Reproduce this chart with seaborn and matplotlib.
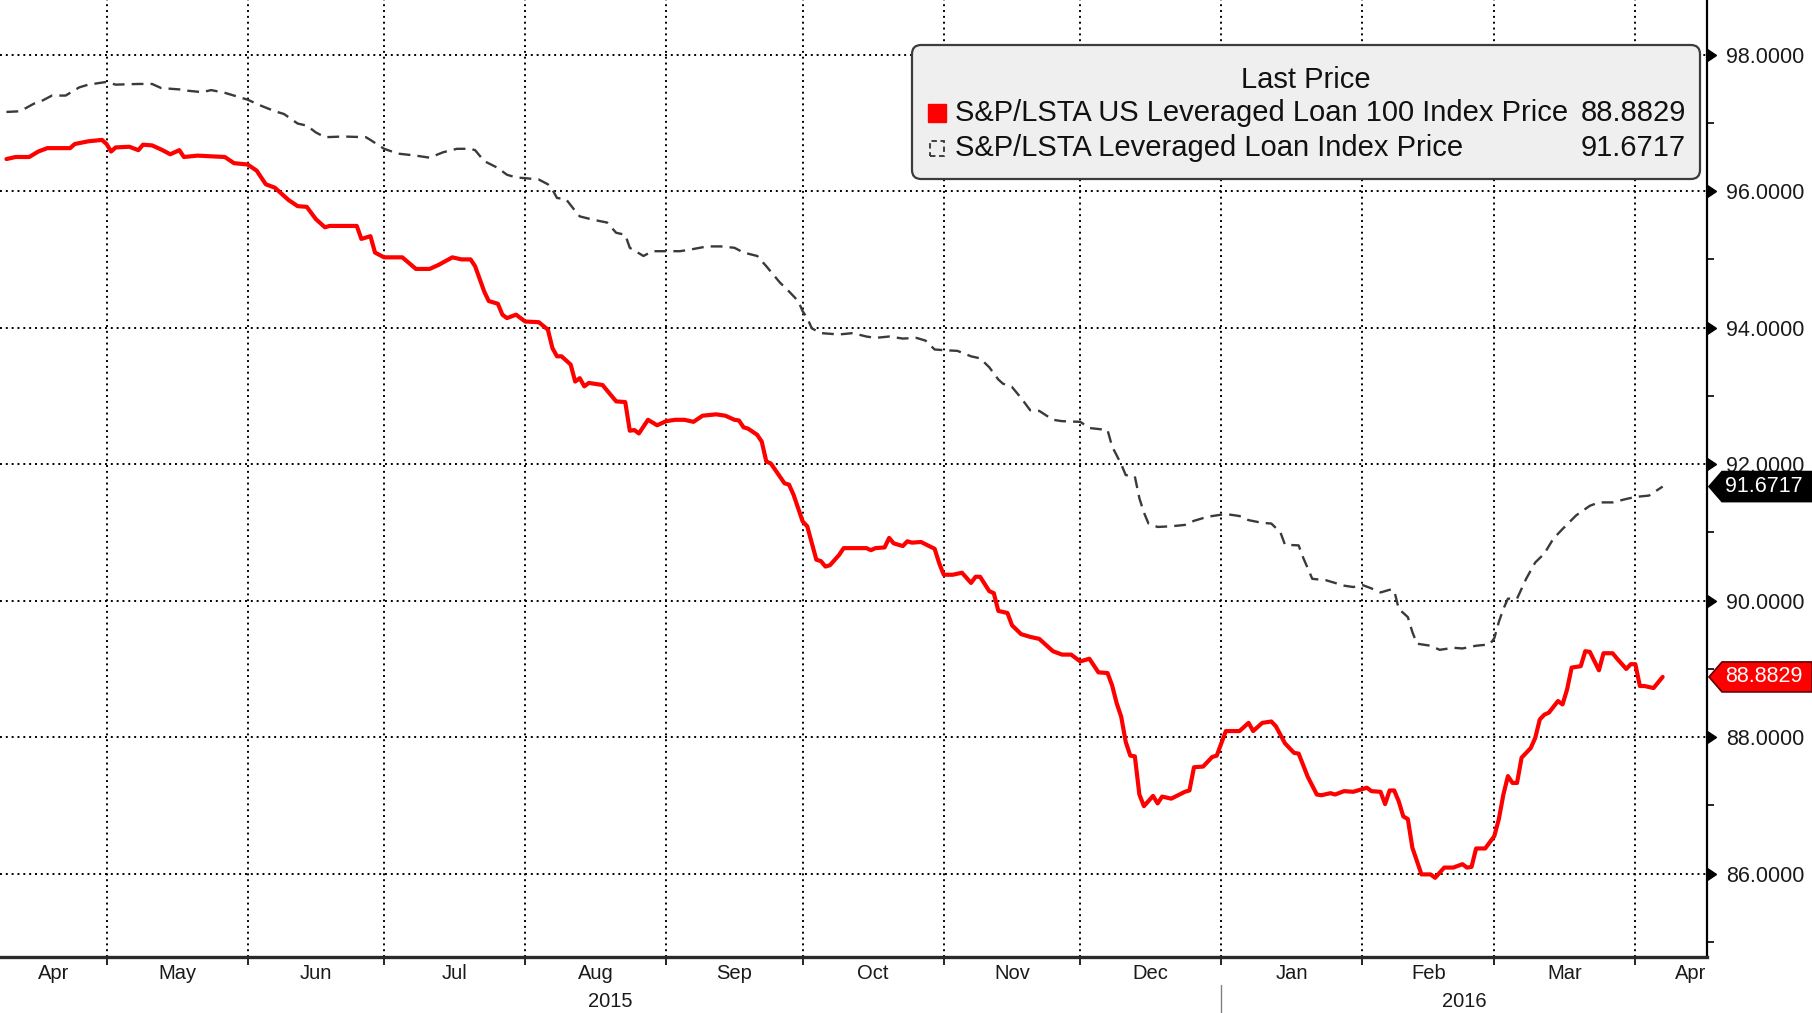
import numpy as np
import pandas as pd
import matplotlib
matplotlib.use("Agg")
import matplotlib.pyplot as plt
import matplotlib.dates as mdates
import seaborn as sns
from matplotlib import font_manager, transforms
from matplotlib.patches import Polygon, FancyBboxPatch, Rectangle
from matplotlib.markers import CARETRIGHTBASE

# ---------------- data ----------------
loan100_dates = [
    "2015-04-09", "2015-04-11", "2015-04-14", "2015-04-16", "2015-04-18", "2015-04-23", "2015-04-24",
    "2015-04-27", "2015-04-30", "2015-05-01", "2015-05-02", "2015-05-03", "2015-05-06", "2015-05-08",
    "2015-05-09", "2015-05-11", "2015-05-13", "2015-05-15", "2015-05-17", "2015-05-18", "2015-05-21",
    "2015-05-27", "2015-05-29", "2015-06-01", "2015-06-03", "2015-06-05", "2015-06-07", "2015-06-10",
    "2015-06-12", "2015-06-14", "2015-06-16", "2015-06-18", "2015-06-19", "2015-06-25", "2015-06-26",
    "2015-06-28", "2015-06-29", "2015-07-01", "2015-07-05", "2015-07-08", "2015-07-11", "2015-07-13",
    "2015-07-16", "2015-07-18", "2015-07-20", "2015-07-21", "2015-07-23", "2015-07-24", "2015-07-26",
    "2015-07-27", "2015-07-28", "2015-07-30", "2015-08-01", "2015-08-04", "2015-08-06", "2015-08-07",
    "2015-08-08", "2015-08-09", "2015-08-11", "2015-08-12", "2015-08-13", "2015-08-14", "2015-08-15",
    "2015-08-18", "2015-08-21", "2015-08-23", "2015-08-24", "2015-08-25", "2015-08-26", "2015-08-28",
    "2015-08-30", "2015-09-01", "2015-09-03", "2015-09-05", "2015-09-07", "2015-09-09", "2015-09-12",
    "2015-09-14", "2015-09-16", "2015-09-17", "2015-09-18", "2015-09-19", "2015-09-21", "2015-09-22",
    "2015-09-23", "2015-09-24", "2015-09-27", "2015-09-28", "2015-09-29", "2015-10-01", "2015-10-02",
    "2015-10-04", "2015-10-05", "2015-10-06", "2015-10-07", "2015-10-09", "2015-10-10", "2015-10-15",
    "2015-10-16", "2015-10-17", "2015-10-19", "2015-10-20", "2015-10-21", "2015-10-23", "2015-10-24",
    "2015-10-25", "2015-10-27", "2015-10-30", "2015-10-31", "2015-11-01", "2015-11-03", "2015-11-05",
    "2015-11-07", "2015-11-08", "2015-11-09", "2015-11-11", "2015-11-12", "2015-11-13", "2015-11-15",
    "2015-11-16", "2015-11-18", "2015-11-20", "2015-11-22", "2015-11-25", "2015-11-27", "2015-11-29",
    "2015-12-01", "2015-12-03", "2015-12-05", "2015-12-07", "2015-12-08", "2015-12-09", "2015-12-10",
    "2015-12-11", "2015-12-12", "2015-12-13", "2015-12-14", "2015-12-15", "2015-12-17", "2015-12-18",
    "2015-12-19", "2015-12-21", "2015-12-24", "2015-12-25", "2015-12-26", "2015-12-28", "2015-12-30",
    "2015-12-31", "2016-01-02", "2016-01-05", "2016-01-07", "2016-01-08", "2016-01-10", "2016-01-12",
    "2016-01-13", "2016-01-15", "2016-01-17", "2016-01-18", "2016-01-20", "2016-01-22", "2016-01-23",
    "2016-01-25", "2016-01-26", "2016-01-28", "2016-01-30", "2016-02-02", "2016-02-03", "2016-02-05",
    "2016-02-06", "2016-02-07", "2016-02-08", "2016-02-09", "2016-02-10", "2016-02-11", "2016-02-12",
    "2016-02-14", "2016-02-16", "2016-02-17", "2016-02-19", "2016-02-21", "2016-02-23", "2016-02-24",
    "2016-02-25", "2016-02-26", "2016-02-28", "2016-03-01", "2016-03-02", "2016-03-03", "2016-03-04",
    "2016-03-05", "2016-03-06", "2016-03-07", "2016-03-09", "2016-03-10", "2016-03-11", "2016-03-12",
    "2016-03-13", "2016-03-15", "2016-03-16", "2016-03-17", "2016-03-18", "2016-03-20", "2016-03-21",
    "2016-03-22", "2016-03-24", "2016-03-25", "2016-03-27", "2016-03-28", "2016-03-30", "2016-03-31",
    "2016-04-01", "2016-04-02", "2016-04-03", "2016-04-05", "2016-04-07",
]
loan100_values = [
    96.47, 96.50, 96.50, 96.58, 96.63, 96.63, 96.69,
    96.73, 96.75, 96.69, 96.58, 96.64, 96.65, 96.60,
    96.68, 96.67, 96.61, 96.54, 96.60, 96.50, 96.52,
    96.50, 96.41, 96.39, 96.30, 96.10, 96.05, 95.87,
    95.78, 95.77, 95.59, 95.47, 95.49, 95.49, 95.30,
    95.34, 95.10, 95.03, 95.03, 94.86, 94.86, 94.92,
    95.03, 95.00, 95.00, 94.90, 94.53, 94.39, 94.35,
    94.19, 94.14, 94.19, 94.09, 94.08, 93.97, 93.70,
    93.58, 93.58, 93.46, 93.21, 93.26, 93.14, 93.19,
    93.16, 92.92, 92.91, 92.49, 92.50, 92.45, 92.65,
    92.57, 92.63, 92.65, 92.65, 92.62, 92.71, 92.73,
    92.71, 92.65, 92.64, 92.54, 92.52, 92.43, 92.33,
    92.04, 92.01, 91.72, 91.70, 91.55, 91.16, 91.09,
    90.60, 90.58, 90.50, 90.52, 90.67, 90.77, 90.77,
    90.74, 90.77, 90.78, 90.92, 90.84, 90.80, 90.87,
    90.85, 90.86, 90.76, 90.55, 90.38, 90.38, 90.41,
    90.26, 90.35, 90.35, 90.14, 90.11, 89.85, 89.82,
    89.64, 89.51, 89.47, 89.44, 89.26, 89.21, 89.21,
    89.11, 89.15, 88.95, 88.94, 88.76, 88.50, 88.30,
    87.93, 87.73, 87.72, 87.16, 86.99, 87.14, 87.03,
    87.13, 87.10, 87.20, 87.22, 87.56, 87.57, 87.71,
    87.73, 88.09, 88.09, 88.21, 88.09, 88.21, 88.23,
    88.16, 87.91, 87.77, 87.76, 87.42, 87.16, 87.15,
    87.18, 87.16, 87.21, 87.20, 87.26, 87.21, 87.20,
    87.02, 87.22, 87.22, 87.06, 86.84, 86.80, 86.38,
    85.99, 85.99, 85.94, 86.09, 86.09, 86.14, 86.09,
    86.10, 86.37, 86.37, 86.55, 86.80, 87.16, 87.43,
    87.33, 87.33, 87.70, 87.84, 87.99, 88.26, 88.33,
    88.36, 88.53, 88.48, 88.70, 89.02, 89.04, 89.26,
    89.25, 88.98, 89.23, 89.23, 89.15, 89.00, 89.07,
    89.07, 88.75, 88.75, 88.72, 88.8829,
]

lli_dates = [
    "2015-04-09", "2015-04-12", "2015-04-15", "2015-04-17", "2015-04-19", "2015-04-22", "2015-04-25",
    "2015-04-27", "2015-05-01", "2015-05-03", "2015-05-08", "2015-05-11", "2015-05-13", "2015-05-17",
    "2015-05-19", "2015-05-22", "2015-05-24", "2015-05-27", "2015-05-30", "2015-06-01", "2015-06-04",
    "2015-06-07", "2015-06-09", "2015-06-12", "2015-06-14", "2015-06-16", "2015-06-18", "2015-06-22",
    "2015-06-27", "2015-06-28", "2015-07-01", "2015-07-04", "2015-07-08", "2015-07-11", "2015-07-14",
    "2015-07-17", "2015-07-20", "2015-07-21", "2015-07-23", "2015-07-26", "2015-07-28", "2015-07-30",
    "2015-08-01", "2015-08-04", "2015-08-06", "2015-08-07", "2015-08-08", "2015-08-10", "2015-08-12",
    "2015-08-13", "2015-08-16", "2015-08-19", "2015-08-21", "2015-08-23", "2015-08-24", "2015-08-27",
    "2015-08-29", "2015-09-01", "2015-09-04", "2015-09-06", "2015-09-10", "2015-09-13", "2015-09-16",
    "2015-09-18", "2015-09-21", "2015-09-23", "2015-09-26", "2015-09-28", "2015-09-30", "2015-10-01",
    "2015-10-02", "2015-10-03", "2015-10-05", "2015-10-09", "2015-10-12", "2015-10-15", "2015-10-17",
    "2015-10-20", "2015-10-23", "2015-10-26", "2015-10-28", "2015-10-30", "2015-11-01", "2015-11-04",
    "2015-11-07", "2015-11-09", "2015-11-11", "2015-11-13", "2015-11-14", "2015-11-16", "2015-11-18",
    "2015-11-20", "2015-11-22", "2015-11-25", "2015-11-27", "2015-12-01", "2015-12-03", "2015-12-07",
    "2015-12-08", "2015-12-10", "2015-12-11", "2015-12-13", "2015-12-14", "2015-12-15", "2015-12-16",
    "2015-12-18", "2015-12-21", "2015-12-24", "2015-12-26", "2015-12-29", "2016-01-01", "2016-01-03",
    "2016-01-05", "2016-01-07", "2016-01-10", "2016-01-12", "2016-01-14", "2016-01-15", "2016-01-18",
    "2016-01-19", "2016-01-21", "2016-01-24", "2016-01-28", "2016-01-30", "2016-02-01", "2016-02-03",
    "2016-02-05", "2016-02-07", "2016-02-08", "2016-02-09", "2016-02-11", "2016-02-12", "2016-02-13",
    "2016-02-16", "2016-02-18", "2016-02-21", "2016-02-23", "2016-02-26", "2016-02-29", "2016-03-01",
    "2016-03-02", "2016-03-03", "2016-03-04", "2016-03-06", "2016-03-08", "2016-03-10", "2016-03-12",
    "2016-03-14", "2016-03-16", "2016-03-19", "2016-03-22", "2016-03-24", "2016-03-27", "2016-03-30",
    "2016-04-01", "2016-04-04", "2016-04-07",
]
lli_values = [
    97.16, 97.17, 97.28, 97.33, 97.40, 97.40, 97.52,
    97.56, 97.60, 97.56, 97.57, 97.57, 97.51, 97.49,
    97.47, 97.45, 97.48, 97.44, 97.38, 97.34, 97.25,
    97.17, 97.13, 96.99, 96.96, 96.86, 96.79, 96.80,
    96.79, 96.75, 96.62, 96.55, 96.52, 96.49, 96.57,
    96.62, 96.62, 96.60, 96.44, 96.34, 96.24, 96.20,
    96.19, 96.17, 96.10, 96.02, 95.90, 95.88, 95.71,
    95.63, 95.58, 95.54, 95.39, 95.36, 95.17, 95.05,
    95.12, 95.12, 95.12, 95.14, 95.19, 95.19, 95.17,
    95.10, 95.05, 94.90, 94.66, 94.53, 94.39, 94.24,
    94.14, 93.99, 93.92, 93.90, 93.92, 93.87, 93.85,
    93.87, 93.84, 93.85, 93.81, 93.68, 93.67, 93.66,
    93.58, 93.55, 93.42, 93.24, 93.18, 93.13, 92.97,
    92.79, 92.78, 92.65, 92.63, 92.62, 92.53, 92.50,
    92.26, 92.00, 91.84, 91.82, 91.50, 91.29, 91.13,
    91.08, 91.09, 91.11, 91.17, 91.23, 91.26, 91.26,
    91.24, 91.18, 91.14, 91.13, 91.00, 90.82, 90.81,
    90.63, 90.32, 90.30, 90.22, 90.20, 90.23, 90.18,
    90.12, 90.16, 90.15, 89.88, 89.76, 89.54, 89.37,
    89.34, 89.28, 89.31, 89.30, 89.34, 89.36, 89.45,
    89.69, 89.88, 90.03, 90.03, 90.32, 90.56, 90.69,
    90.91, 91.05, 91.25, 91.39, 91.44, 91.44, 91.49,
    91.52, 91.54, 91.6717,
]

series_names = ["S&P/LSTA US Leveraged Loan 100 Index Price",
                "S&P/LSTA Leveraged Loan Index Price"]
series_colors = ["#ff0000", "#3a3a3a"]
legend_title = "Last Price"
y_major_ticks = [86, 88, 90, 92, 94, 96, 98]
y_minor_ticks = [85, 87, 89, 91, 93, 95, 97]
month_labels = ["Apr", "May", "Jun", "Jul", "Aug", "Sep", "Oct",
                "Nov", "Dec", "Jan", "Feb", "Mar", "Apr"]
year_labels = ["2015", "2016"]
x_start = "2015-04-07 14:00"
x_end = "2016-04-16 18:00"
y_range = (84.78, 98.80)

# ---------------- style ----------------
sns.set_theme(style="white")
names = {f.name for f in font_manager.fontManager.ttflist}
narrow = "Liberation Sans Narrow" in names
FONT = "Liberation Sans Narrow" if narrow else "Liberation Sans"
plt.rcParams["font.family"] = [FONT, "DejaVu Sans"]
fs_tick = 18 if narrow else 15.5
fs_month = 17 if narrow else 14.5

W, H = 1812, 1013
fig = plt.figure(figsize=(W / 100, H / 100), dpi=100)
fig.patch.set_facecolor("white")
ax = fig.add_axes([0, 56 / H, 1707 / W, 957 / H])
ax.set_facecolor("white")

# ---------------- lines ----------------
df_100 = pd.DataFrame({"date": pd.to_datetime(loan100_dates), "price": loan100_values})
df_lli = pd.DataFrame({"date": pd.to_datetime(lli_dates), "price": lli_values})
sns.lineplot(data=df_lli, x="date", y="price", ax=ax, color=series_colors[1], linewidth=1.7, zorder=3)
ax.lines[-1].set_dashes([5.0, 3.0])
sns.lineplot(data=df_100, x="date", y="price", ax=ax, color=series_colors[0], linewidth=3.0, zorder=4)
ax.set_xlabel("")
ax.set_ylabel("")

x0 = pd.Timestamp(x_start)
x1 = pd.Timestamp(x_end)
ax.set_xlim(x0, x1)
ax.set_ylim(*y_range)

# ---------------- x axis ----------------
month_starts = pd.date_range("2015-05-01", "2016-04-01", freq="MS")
ax.set_xticks(mdates.date2num(month_starts))
ax.set_xticklabels([])
centers = []
for m in pd.date_range("2015-04-01", "2016-04-01", freq="MS"):
    mid = m + (m + pd.offsets.MonthBegin(1) - m) / 2
    a = max(m, x0)
    b = min(m + pd.offsets.MonthBegin(1), x1)
    c = a + (b - a) / 2
    if b == x1:  # partial last month: centre near its middle, kept inside the axis
        c = min(mid, x1 - pd.Timedelta(days=3.5))
    centers.append(mdates.date2num(c))
ax.set_xticks(centers, minor=True)
ax.set_xticklabels(month_labels, minor=True)
ax.tick_params(axis="x", which="major", bottom=True, length=6, width=1.2, color="black", direction="out")
ax.tick_params(axis="x", which="minor", bottom=True, length=0, pad=5, labelsize=fs_month, labelcolor="#1a1a1a")

blend_xa = transforms.blended_transform_factory(ax.transData, ax.transAxes)
jan1 = pd.Timestamp("2016-01-01")
year_spans = [(x0, jan1), (jan1, x1)]
for lab, (a, b) in zip(year_labels, year_spans):
    ax.text(mdates.date2num(a + (b - a) / 2), -0.047, lab, transform=blend_xa,
            ha="center", va="center", fontsize=fs_month, color="#1a1a1a")
ax.plot([mdates.date2num(jan1)] * 2, [-0.029, -0.07], transform=blend_xa,
        color="#808080", lw=1.0, clip_on=False)

# ---------------- y axis ----------------
ax.yaxis.tick_right()
ax.set_yticks(y_major_ticks)
ax.set_yticklabels([f"{v:.4f}" for v in y_major_ticks])
ax.set_yticks(y_minor_ticks, minor=True)
ax.tick_params(axis="y", which="major", right=True, left=False, length=0, pad=14,
               labelsize=fs_tick, labelcolor="#1a1a1a", labelright=True, labelleft=False)
ax.tick_params(axis="y", which="minor", right=True, left=False, length=5, width=1.2,
               color="black", direction="out")
blend_ad = transforms.blended_transform_factory(ax.transAxes, ax.transData)
ax.plot(np.ones(len(y_major_ticks)), y_major_ticks, transform=blend_ad, ls="none",
        marker=CARETRIGHTBASE, ms=9, color="black", clip_on=False, zorder=5)

# ---------------- grid & spines ----------------
ax.grid(True, which="major", axis="both", color="black", linestyle=(0, (1.0, 2.0)), linewidth=1.4)
ax.set_axisbelow(True)
for s in ["left", "top"]:
    ax.spines[s].set_visible(False)
ax.spines["right"].set_color("black")
ax.spines["right"].set_linewidth(1.6)
ax.spines["bottom"].set_color("#2a2a2a")
ax.spines["bottom"].set_linewidth(2.4)

# ---------------- last-price tags ----------------
def fig_y(v):
    disp = ax.transData.transform((0, v))
    return fig.transFigure.inverted().transform(disp)[1]

last_vals = [loan100_values[-1], lli_values[-1]]
tag_styles = [("#ff0000", "#600000"), ("black", "black")]
for v, (fc, ec) in zip(last_vals, tag_styles):
    yc = fig_y(v)
    hh = 15 / H
    tip, body = 1709 / W, 1722 / W
    poly = Polygon([(tip, yc), (body, yc + hh), (1.0, yc + hh), (1.0, yc - hh), (body, yc - hh)],
                   closed=True, transform=fig.transFigure, facecolor=fc, edgecolor=ec, lw=1.2)
    fig.add_artist(poly)
    fig.text(1764 / W, yc, f"{v:.4f}", color="white", ha="center", va="center", fontsize=fs_tick)

# ---------------- legend box ----------------
def fx(px):
    return px / W

def fy(py):
    return 1 - py / H

box = FancyBboxPatch((fx(912), fy(179)), fx(1700) - fx(912), fy(45) - fy(179),
                     boxstyle="round,pad=0,rounding_size=0.005", mutation_aspect=W / H,
                     transform=fig.transFigure, facecolor="#efefef", edgecolor="#3c3c3c", lw=1.6)
fig.add_artist(box)

# pick a legend font size so the first label spans roughly its reference width
renderer = fig.canvas.get_renderer()
probe = fig.text(0, 0, series_names[0], fontsize=20)
w20 = probe.get_window_extent(renderer).width
probe.remove()
fs_leg = 20 * 612 / w20

fig.text(fx(1306), fy(80), legend_title, ha="center", va="center", fontsize=fs_leg, color="#111111")
row_y = [113, 148]
fig.add_artist(Rectangle((fx(928), fy(122)), 18 / W, 18 / H, transform=fig.transFigure,
                         facecolor=series_colors[0], edgecolor=series_colors[0]))
fig.add_artist(Rectangle((fx(930), fy(156)), 14 / W, 15 / H, transform=fig.transFigure,
                         facecolor="none", edgecolor="#333333", lw=1.3, linestyle=(0, (3, 2))))
for name, val, ry in zip(series_names, last_vals, row_y):
    fig.text(fx(955), fy(ry), name, ha="left", va="center", fontsize=fs_leg, color="#111111")
    fig.text(fx(1686), fy(ry), f"{val:.4f}", ha="right", va="center", fontsize=fs_leg, color="#111111")

fig.savefig("out.png", dpi=100, facecolor="white")
